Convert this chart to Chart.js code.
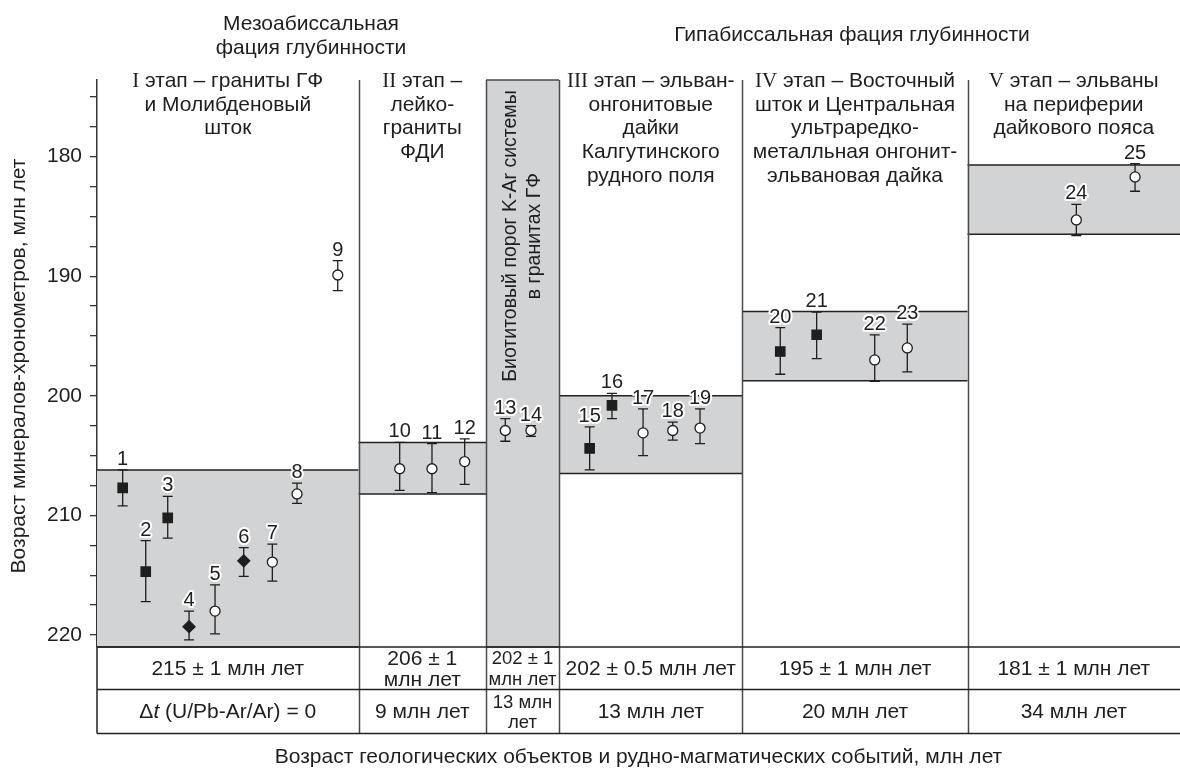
<!DOCTYPE html>
<html>
<head>
<meta charset="utf-8">
<script src="https://cdn.jsdelivr.net/npm/chart.js@4.4.1/dist/chart.umd.min.js"></script>
<style>
  html, body { margin: 0; padding: 0; background: #fff; overflow: hidden; }
  #wrap { width: 1180px; height: 772px; }
  canvas { display: block; }
</style>
</head>
<body>
<div id="wrap"><canvas id="ageChart" width="1180" height="772"></canvas></div>
<script>
// --- Data ---
const pointIds  = [1, 2, 3, 4, 5, 6, 7, 8, 9, 10, 11, 12, 13, 14, 15, 16, 17, 18, 19, 20, 21, 22, 23, 24, 25];
// horizontal position along the stage scheme (0 = age axis, 100 = right edge)
const pointX    = [2.37, 4.5, 6.53, 8.5, 10.9, 13.55, 16.19, 18.47, 22.23, 27.95, 30.93, 33.95, 37.7, 40.07,
                   45.49, 47.55, 50.42, 53.16, 55.68, 63.09, 66.45, 71.81, 74.82, 90.43, 95.85];
const pointAge  = [207.7, 214.7, 210.2, 219.3, 218.0, 213.8, 213.9, 208.2, 189.9, 206.1, 206.1, 205.5, 202.9, 202.9,
                   204.4, 200.8, 203.1, 202.9, 202.7, 196.3, 194.9, 197.0, 196.0, 185.3, 181.7];
const errTop    = [206.2, 212.1, 208.4, 218.0, 215.8, 212.7, 212.4, 207.3, 188.7, 203.9, 204.0, 203.6, 201.9, 202.5,
                   202.6, 199.8, 201.1, 202.2, 201.1, 194.3, 193.0, 194.9, 194.0, 184.0, 180.6];
const errBottom = [209.2, 217.2, 211.9, 220.4, 219.9, 215.1, 215.5, 209.0, 191.2, 207.9, 208.1, 207.4, 203.8, 203.4,
                   206.2, 201.9, 205.0, 203.7, 204.0, 198.2, 196.9, 198.8, 198.0, 186.6, 182.9];
const pointKind = ['square', 'square', 'square', 'diamond', 'circle', 'diamond', 'circle', 'circle', 'circle',
                   'circle', 'circle', 'circle', 'circle', 'circle', 'square', 'square', 'circle', 'circle', 'circle',
                   'square', 'square', 'circle', 'circle', 'circle', 'circle'];

// columns: I, II, biotite threshold, III, IV, V
const columnEdges = [0, 24.15, 35.92, 42.66, 59.6, 80.38, 100];
const rangeTop    = [206.2, 203.9, 173.6, 200.0, 192.95, 180.7];
const rangeBottom = [221, 208.2, 221, 206.5, 198.75, 186.5];

const yTickValues  = [175, 177.5, 180, 182.5, 185, 187.5, 190, 192.5, 195, 197.5, 200, 202.5, 205, 207.5, 210, 212.5, 215, 217.5, 220];
const yLabelValues = [180, 190, 200, 210, 220];

const stageNumerals = ['I', 'II', null, 'III', 'IV', 'V'];
const stageHeaders = [
  [' этап – граниты ГФ', 'и Молибденовый', 'шток'],
  [' этап –', 'лейко-', 'граниты', 'ФДИ'],
  null,
  [' этап – эльван-', 'онгонитовые', 'дайки', 'Калгутинского', 'рудного поля'],
  [' этап – Восточный', 'шток и Центральная', 'ультраредко-', 'металльная онгонит-', 'эльвановая дайка'],
  [' этап – эльваны', 'на периферии', 'дайкового пояса']
];
const biotiteLabel = ['Биотитовый порог K-Ar системы', 'в гранитах ГФ'];
const ageRow   = [['215 ± 1 млн лет'], ['206 ± 1', 'млн лет'], ['202 ± 1', 'млн лет'], ['202 ± 0.5 млн лет'], ['195 ± 1 млн лет'], ['181 ± 1 млн лет']];
const deltaRow = [null, ['9 млн лет'], ['13 млн', 'лет'], ['13 млн лет'], ['20 млн лет'], ['34 млн лет']];

const faciesMeso = ['Мезоабиссальная', 'фация глубинности'];
const faciesHypo = 'Гипабиссальная фация глубинности';
const yTitle = 'Возраст минералов-хронометров, млн лет';
const xTitle = 'Возраст геологических объектов и рудно-магматических событий, млн лет';

// --- Styling ---
const SANS = '"Liberation Sans", Arial, sans-serif';
const SERIF = '"Liberation Serif", "Times New Roman", serif';
const INK = '#1e1e1e';
const BOX_FILL = '#d1d3d4';
const LINE = '#4a4a4a';
const FS = 21;

function drawRuns(ctx, runs, cx, y) {
  let widths = [], total = 0;
  runs.forEach(r => { ctx.font = r.font; const w = ctx.measureText(r.text).width; widths.push(w); total += w; });
  let x = cx - total / 2;
  ctx.textAlign = 'left';
  runs.forEach((r, i) => { ctx.font = r.font; ctx.fillText(r.text, x, y); x += widths[i]; });
}

const schemePlugin = {
  id: 'scheme',
  beforeDatasetsDraw(chart) {
    const ctx = chart.ctx, xs = chart.scales.x, ys = chart.scales.y, area = chart.chartArea;
    ctx.save();
    // gray age ranges
    for (let i = 0; i < rangeTop.length; i++) {
      const x0 = xs.getPixelForValue(columnEdges[i]), x1 = xs.getPixelForValue(columnEdges[i + 1]);
      const y0 = ys.getPixelForValue(rangeTop[i]), y1 = ys.getPixelForValue(rangeBottom[i]);
      ctx.fillStyle = BOX_FILL;
      ctx.fillRect(x0, y0, x1 - x0, y1 - y0);
      ctx.strokeStyle = i === 2 ? LINE : '#222';
      ctx.lineWidth = 1.5;
      ctx.beginPath();
      ctx.moveTo(x0, y0); ctx.lineTo(x1, y0);
      ctx.moveTo(x0, y1); ctx.lineTo(x1, y1);
      ctx.stroke();
    }
    // column separators (run through the table)
    ctx.strokeStyle = LINE;
    ctx.lineWidth = 1.5;
    for (let i = 1; i < columnEdges.length - 1; i++) {
      const x = Math.round(xs.getPixelForValue(columnEdges[i])) + 0.5;
      ctx.beginPath(); ctx.moveTo(x, area.top); ctx.lineTo(x, 734); ctx.stroke();
    }
    // error bars
    ctx.strokeStyle = INK;
    ctx.lineWidth = 1.3;
    for (let i = 0; i < pointIds.length; i++) {
      const x = xs.getPixelForValue(pointX[i]);
      const t = ys.getPixelForValue(errTop[i]), b = ys.getPixelForValue(errBottom[i]);
      ctx.beginPath();
      ctx.moveTo(x, t); ctx.lineTo(x, b);
      ctx.moveTo(x - 5, t); ctx.lineTo(x + 5, t);
      ctx.moveTo(x - 5, b); ctx.lineTo(x + 5, b);
      ctx.stroke();
    }
    ctx.restore();
  },
  afterDatasetsDraw(chart) {
    const ctx = chart.ctx, xs = chart.scales.x, ys = chart.scales.y;
    ctx.save();
    ctx.font = '20px ' + SANS;
    ctx.textAlign = 'center';
    ctx.textBaseline = 'alphabetic';
    ctx.lineJoin = 'round';
    for (let i = 0; i < pointIds.length; i++) {
      const x = xs.getPixelForValue(pointX[i]);
      const y = ys.getPixelForValue(errTop[i]) - 5;
      ctx.strokeStyle = '#fff'; ctx.lineWidth = 4;
      ctx.strokeText(String(pointIds[i]), x, y);
      ctx.fillStyle = INK;
      ctx.fillText(String(pointIds[i]), x, y);
    }
    ctx.restore();
  },
  afterDraw(chart) {
    const ctx = chart.ctx, xs = chart.scales.x, area = chart.chartArea;
    const mid = i => (xs.getPixelForValue(columnEdges[i]) + xs.getPixelForValue(columnEdges[i + 1])) / 2;
    const sans = FS + 'px ' + SANS;
    ctx.save();
    ctx.fillStyle = INK;
    ctx.textBaseline = 'alphabetic';

    // facies headers
    ctx.font = sans;
    ctx.textAlign = 'center';
    ctx.fillText(faciesMeso[0], 311, 30);
    ctx.fillText(faciesMeso[1], 311, 54);
    ctx.fillText(faciesHypo, 852, 41);

    // stage headers
    for (let i = 0; i < stageHeaders.length; i++) {
      const lines = stageHeaders[i];
      if (!lines) continue;
      const cx = mid(i);
      lines.forEach((ln, k) => {
        const y = 87 + k * 23.7;
        if (k === 0) {
          drawRuns(ctx, [{ text: stageNumerals[i], font: FS + 'px ' + SERIF }, { text: ln, font: sans }], cx, y);
        } else {
          ctx.font = sans; ctx.textAlign = 'center';
          ctx.fillText(ln, cx, y);
        }
      });
    }

    // rotated biotite label
    ctx.save();
    ctx.translate(mid(2), 236);
    ctx.rotate(-Math.PI / 2);
    ctx.font = '19.5px ' + SANS;
    ctx.textAlign = 'center';
    ctx.textBaseline = 'middle';
    ctx.fillText(biotiteLabel[0], 0, -11.5);
    ctx.fillText(biotiteLabel[1], 0, 12.5);
    ctx.restore();

    // table
    const tLeft = area.left, tRight = area.right, r0 = area.bottom, r1 = 689.5, r2 = 733.5;
    ctx.strokeStyle = '#222';
    ctx.lineWidth = 1.5;
    ctx.beginPath();
    ctx.moveTo(tLeft, r0); ctx.lineTo(tRight, r0);
    ctx.moveTo(tLeft, r1); ctx.lineTo(tRight, r1);
    ctx.moveTo(tLeft, r2); ctx.lineTo(tRight, r2);
    ctx.moveTo(tLeft, r0); ctx.lineTo(tLeft, r2);
    ctx.stroke();

    ctx.textAlign = 'center';
    ctx.textBaseline = 'middle';
    for (let i = 0; i < ageRow.length; i++) {
      const cx = mid(i);
      const size = i === 2 ? 18.5 : FS;
      ctx.font = size + 'px ' + SANS;
      const rowMid1 = (r0 + r1) / 2 + 1, rowMid2 = (r1 + r2) / 2 + 1;
      const put = (cell, c) => {
        if (cell.length === 1) ctx.fillText(cell[0], cx, c);
        else { ctx.fillText(cell[0], cx, c - 10); ctx.fillText(cell[1], cx, c + 10.5); }
      };
      put(ageRow[i], rowMid1);
      if (deltaRow[i]) put(deltaRow[i], rowMid2);
      else {
        drawRuns(ctx, [
          { text: '\u0394', font: sans },
          { text: 't', font: 'italic ' + sans },
          { text: ' (U/Pb-Ar/Ar) = 0', font: sans }
        ], cx, rowMid2);
        ctx.textAlign = 'center';
      }
    }

    // axis titles
    ctx.font = sans;
    ctx.textAlign = 'center';
    ctx.textBaseline = 'middle';
    ctx.fillText(xTitle, (area.left + area.right) / 2, 757);
    ctx.save();
    ctx.translate(19, 366);
    ctx.rotate(-Math.PI / 2);
    ctx.fillText(yTitle, 0, 0);
    ctx.restore();

    ctx.restore();
  }
};

const kindStyle  = { square: 'rect', diamond: 'rectRot', circle: 'circle' };
const kindRadius = { square: 6.6, diamond: 6, circle: 5 };

new Chart(document.getElementById('ageChart').getContext('2d'), {
  type: 'scatter',
  data: {
    datasets: [{
      data: pointX.map((x, i) => ({ x: x, y: pointAge[i] })),
      pointStyle: ctx => kindStyle[pointKind[ctx.dataIndex]],
      pointRadius: ctx => kindRadius[pointKind[ctx.dataIndex]],
      pointHoverRadius: ctx => kindRadius[pointKind[ctx.dataIndex]],
      pointBackgroundColor: ctx => pointKind[ctx.dataIndex] === 'circle' ? '#fff' : INK,
      pointBorderColor: INK,
      pointBorderWidth: 1.3
    }]
  },
  options: {
    responsive: false,
    animation: false,
    devicePixelRatio: 1,
    layout: { autoPadding: false, padding: { left: 0, right: 0, top: 80, bottom: 125 } },
    plugins: { legend: { display: false }, tooltip: { enabled: false } },
    scales: {
      x: { type: 'linear', min: 0, max: 100, display: false },
      y: {
        type: 'linear', reverse: true, min: 173.6, max: 221,
        afterFit: s => { s.width = 97; },
        afterBuildTicks: s => { s.ticks = yTickValues.map(v => ({ value: v })); },
        grid: { drawOnChartArea: false, drawTicks: true, tickLength: 7, color: '#333', lineWidth: 1.3 },
        border: { display: true, color: '#333', width: 1.5 },
        ticks: {
          autoSkip: false,
          padding: 8,
          color: INK,
          font: { family: SANS, size: 21 },
          callback: v => yLabelValues.includes(v) ? String(v) : ''
        }
      }
    }
  },
  plugins: [schemePlugin]
});
</script>
</body>
</html>
